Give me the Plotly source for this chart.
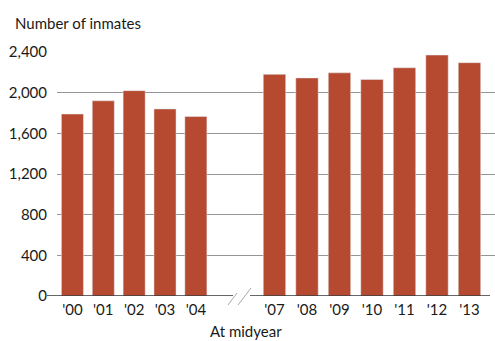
import plotly.graph_objects as go

years_early = ["'00", "'01", "'02", "'03", "'04"]
inmates_early = [1790, 1920, 2020, 1840, 1765]
years_late = ["'07", "'08", "'09", "'10", "'11", "'12", "'13"]
inmates_late = [2180, 2145, 2195, 2130, 2245, 2370, 2295]
y_ticks = [0, 400, 800, 1200, 1600, 2000, 2400]
y_ticktext = ["0", "400", "800", "1,200", "1,600", "2,000", "2,400"]

BAR = "#B54A30"
GRID = "#959595"
FONT = "Lato, Roboto, sans-serif"

W, H = 495, 341
L, R, T, B = 57, 0, 52, 45
pw = W - L - R
ph = H - T - B
def px(x):
    return (x - L) / pw
def py(y):
    return (H - B - y) / ph

split = px(235)

fig = go.Figure()
fig.add_trace(go.Bar(x=years_early, y=inmates_early, marker_color=BAR, width=0.715,
                     xaxis="x", yaxis="y", showlegend=False))
fig.add_trace(go.Bar(x=years_late, y=inmates_late, marker_color=BAR, width=0.69,
                     xaxis="x2", yaxis="y2", showlegend=False))

tickfont = dict(family=FONT, size=15, color="#1a1a1a")
fig.update_layout(
    width=W, height=H,
    margin=dict(l=L, r=R, t=T, b=B),
    paper_bgcolor="white", plot_bgcolor="white",
    font=dict(family=FONT, color="#1a1a1a"),
    xaxis=dict(domain=[0, split], type="category", range=[-0.5, 5.268],
               showgrid=False, zeroline=False, showline=False, ticks="",
               tickfont=tickfont, anchor="y", automargin=False,
               ticklabelstandoff=3),
    xaxis2=dict(domain=[split, 1], type="category", range=[-1.215, 6.785],
                showgrid=False, zeroline=False, showline=False, ticks="",
                tickfont=tickfont, anchor="y2", automargin=False,
                ticklabelstandoff=3),
    yaxis=dict(range=[0, 2400], tickvals=y_ticks, ticktext=y_ticktext,
               showgrid=True, gridcolor=GRID, gridwidth=1.2, zeroline=False,
               showline=False, ticks="", tickfont=tickfont, anchor="x",
               ticklabelstandoff=9, automargin=False),
    yaxis2=dict(matches="y", range=[0, 2400], tickvals=y_ticks,
                showgrid=True, gridcolor=GRID, gridwidth=1.2, zeroline=False,
                showline=False, showticklabels=False, ticks="", anchor="x2",
                automargin=False),
    shapes=[
        dict(type="line", xref="paper", yref="y", x0=px(47), x1=px(233), y0=0, y1=0,
             line=dict(color="#333", width=1.5)),
        dict(type="line", xref="paper", yref="y", x0=px(250), x1=px(490), y0=0, y1=0,
             line=dict(color="#333", width=1.5)),
        dict(type="line", xref="paper", yref="paper", x0=px(228), x1=px(237),
             y0=py(305), y1=py(293), line=dict(color="#aaa", width=1)),
        dict(type="line", xref="paper", yref="paper", x0=px(238), x1=px(251),
             y0=py(305), y1=py(288), line=dict(color="#aaa", width=1)),
    ],
    annotations=[
        dict(text="Number of inmates", xref="paper", yref="paper", x=px(13), y=py(23),
             xanchor="left", yanchor="middle", showarrow=False,
             font=dict(family=FONT, size=15, color="#1a1a1a")),
        dict(text="At midyear", xref="paper", yref="paper", x=px(246), y=py(331),
             xanchor="center", yanchor="middle", showarrow=False,
             font=dict(family=FONT, size=15, color="#1a1a1a")),
    ],
)

fig.write_html("out.html", config={"displayModeBar": False},
               post_script="document.body.style.margin='0';")
